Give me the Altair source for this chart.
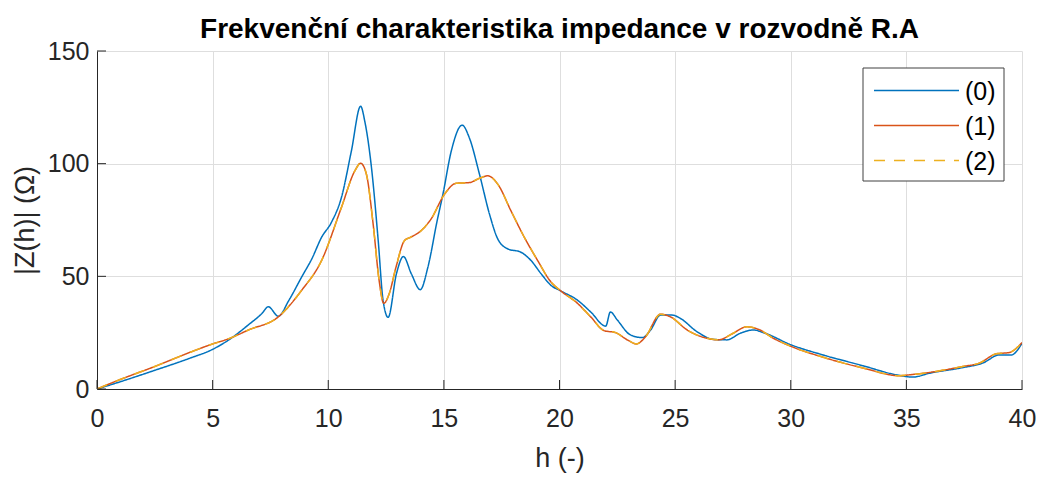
import altair as alt
import pandas as pd

# Series (0)
h0 = [0, 1, 2.5, 4, 5, 5.7, 6.55, 7.13, 7.41, 7.84, 8.3, 8.85, 9.3, 9.71, 10.14, 10.57,
      11.0, 11.4, 11.58, 11.87, 12.16, 12.37, 12.59, 12.95, 13.25, 13.59, 13.98, 14.31,
      14.71, 14.96, 15.32, 15.79, 16.1, 16.54, 16.97, 17.33, 17.76, 18.33, 18.76, 19.2,
      19.63, 20.06, 20.78, 21.35, 22.0, 22.2, 22.5, 23.07, 23.58, 23.94, 24.37, 24.87,
      25.23, 25.95, 26.67, 27.24, 27.81, 28.39, 28.82, 30.04, 31.4, 33.13, 34.57, 35.29,
      36.0, 37.44, 38.3, 39.02, 39.53, 40]
z0 = [0, 3.2, 8.3, 13.6, 17.6, 21.8, 28.5, 33.5, 36.5, 32.3, 39.4, 49.7, 58, 67.3, 74, 85,
      105.6, 125.5, 118.8, 98.2, 65.9, 39.4, 31.8, 51.2, 58.8, 51.2, 44.1, 54.1,
      74.7, 86.5, 105.6, 117.1, 111.5, 95.3, 77.7, 66.6, 62.2, 60.7, 57.1, 51.2,
      46, 43.5, 39.4, 34.2, 27.9, 34.2, 30.6, 24, 22.8, 26.2, 32.8, 32.8,
      31.3, 25.4, 22, 21.8, 24.7, 26.2, 25, 19.5, 15.1, 10.3, 6.3, 5.3,
      7, 9.5, 11.5, 15.1, 15.1, 20.3]

# Series (1) and (2)
h12 = [0, 1, 2.5, 4, 5, 5.69, 6.55, 7.84, 8.85, 9.71, 10.57, 11.15, 11.4, 11.65, 11.94,
       12.2, 12.4, 12.64, 12.93, 13.3, 13.59, 14.02, 14.45, 15.03, 15.53, 16.1, 16.54,
       16.9, 17.33, 17.9, 18.48, 19.05, 19.63, 20.06, 20.78, 21.35, 21.93, 22.43, 22.93,
       23.33, 23.72, 24.37, 24.8, 25.52, 26.23, 26.88, 27.45, 28.1, 28.6, 29.25, 30.04,
       31.4, 33.13, 34.71, 35.14, 36.29, 37.44, 38.16, 38.88, 39.45, 40]
z1 = [0, 4.2, 10, 16.2, 20, 22.3, 26.2, 32, 43.8, 57, 80.6, 96.8, 100.2, 95.3, 73.3,
      48.2, 38, 42.4, 54.1, 65.9, 67.5, 70.3, 75.5, 86.5, 91.3, 91.6, 93.5,
      94.6, 90.9, 79.1, 67.3, 57.1, 47.5, 43.5, 38, 32, 25.9, 25, 21.8,
      20, 23.2, 33.2, 32, 26.2, 22.9, 21.8, 24.4, 27.6, 26.5, 22.5, 18.8,
      14.1, 9.3, 5.9, 6.3, 7.8, 10, 11.5, 15.6, 16.2, 20.6]
z2 = list(z1)

series_names = ["(0)", "(1)", "(2)"]
series_colors = ["#0072BD", "#D95319", "#EDB120"]
series_dash = [[1, 0], [1, 0], [11, 9]]

x_ticks = [0, 5, 10, 15, 20, 25, 30, 35, 40]
y_ticks = [0, 50, 100, 150]

rows = []
for h, z in zip(h0, z0):
    rows.append({"h": h, "z": z, "s": "(0)"})
for h, z in zip(h12, z1):
    rows.append({"h": h, "z": z, "s": "(1)"})
for h, z in zip(h12, z2):
    rows.append({"h": h, "z": z, "s": "(2)"})
df = pd.DataFrame(rows)

W, H = 925, 338
FONT = "Liberation Sans, Arial, sans-serif"

xscale = alt.Scale(domain=[0, 40], nice=False, zero=False)
yscale = alt.Scale(domain=[0, 150], nice=False)

lines = alt.Chart(df).mark_line(strokeWidth=1.5, interpolate="monotone", clip=True).encode(
    x=alt.X("h:Q", scale=xscale, title="h (-)",
            axis=alt.Axis(values=x_ticks, labelPadding=17, titlePadding=14, labelFlush=False)),
    y=alt.Y("z:Q", scale=yscale, title="|Z(h)| (Ω)",
            axis=alt.Axis(values=y_ticks, labelPadding=8, titlePadding=8, labelFlush=False)),
    color=alt.Color("s:N", scale=alt.Scale(domain=series_names, range=series_colors), legend=None),
    strokeDash=alt.StrokeDash("s:N", scale=alt.Scale(domain=series_names, range=series_dash), legend=None),
    order=alt.Order("s:N"),
)

xt = alt.Chart(pd.DataFrame({"t": x_ticks})).mark_rule(color="#262626", strokeWidth=1).encode(
    x=alt.X("t:Q", scale=xscale), y=alt.value(H), y2=alt.value(H - 9))
yt = alt.Chart(pd.DataFrame({"t": y_ticks})).mark_rule(color="#262626", strokeWidth=1).encode(
    y=alt.Y("t:Q", scale=yscale), x=alt.value(0), x2=alt.value(9))

# Manual legend (box, sample lines, labels)
LX0, LX1, LY0, LY1 = 766, 907, 17, 130
legend_layers = [
    alt.Chart(pd.DataFrame({"s": ["box"]})).mark_rect(
        fill="#ffffff", stroke="#404040", strokeWidth=1).encode(
        x=alt.value(LX0), x2=alt.value(LX1), y=alt.value(LY0), y2=alt.value(LY1))
]
for i, (name, col, dash) in enumerate(zip(series_names, series_colors, series_dash)):
    yy = 39.5 + i * 35
    legend_layers.append(
        alt.Chart(pd.DataFrame({"s": [name]})).mark_rule(
            color=col, strokeWidth=1.5, strokeDash=dash).encode(
            x=alt.value(777), x2=alt.value(862), y=alt.value(yy)))
    legend_layers.append(
        alt.Chart(pd.DataFrame({"s": [name]})).mark_text(
            align="left", baseline="middle", font=FONT, fontSize=25, color="#000000").encode(
            text="s:N", x=alt.value(868), y=alt.value(yy + 1)))

chart = alt.layer(lines, xt, yt, *legend_layers).properties(
    width=W, height=H,
    title=alt.Title("Frekvenční charakteristika impedance v rozvodně R.A",
                    font=FONT, fontSize=28, fontWeight="bold", color="#000000",
                    offset=12, dy=17),
    autosize=alt.AutoSizeParams(type="none"),
    padding={"left": 89, "top": 43, "right": 14, "bottom": 86},
).configure_view(stroke=None).configure_axis(
    labelFont=FONT, titleFont=FONT, labelFontSize=25, titleFontSize=27,
    labelColor="#262626", titleColor="#262626", titleFontWeight="normal",
    domainColor="#262626", domainWidth=1, ticks=False,
    gridColor="#dedede", gridWidth=1,
)

chart.save("out.html", embed_options={"renderer": "svg", "actions": False})
